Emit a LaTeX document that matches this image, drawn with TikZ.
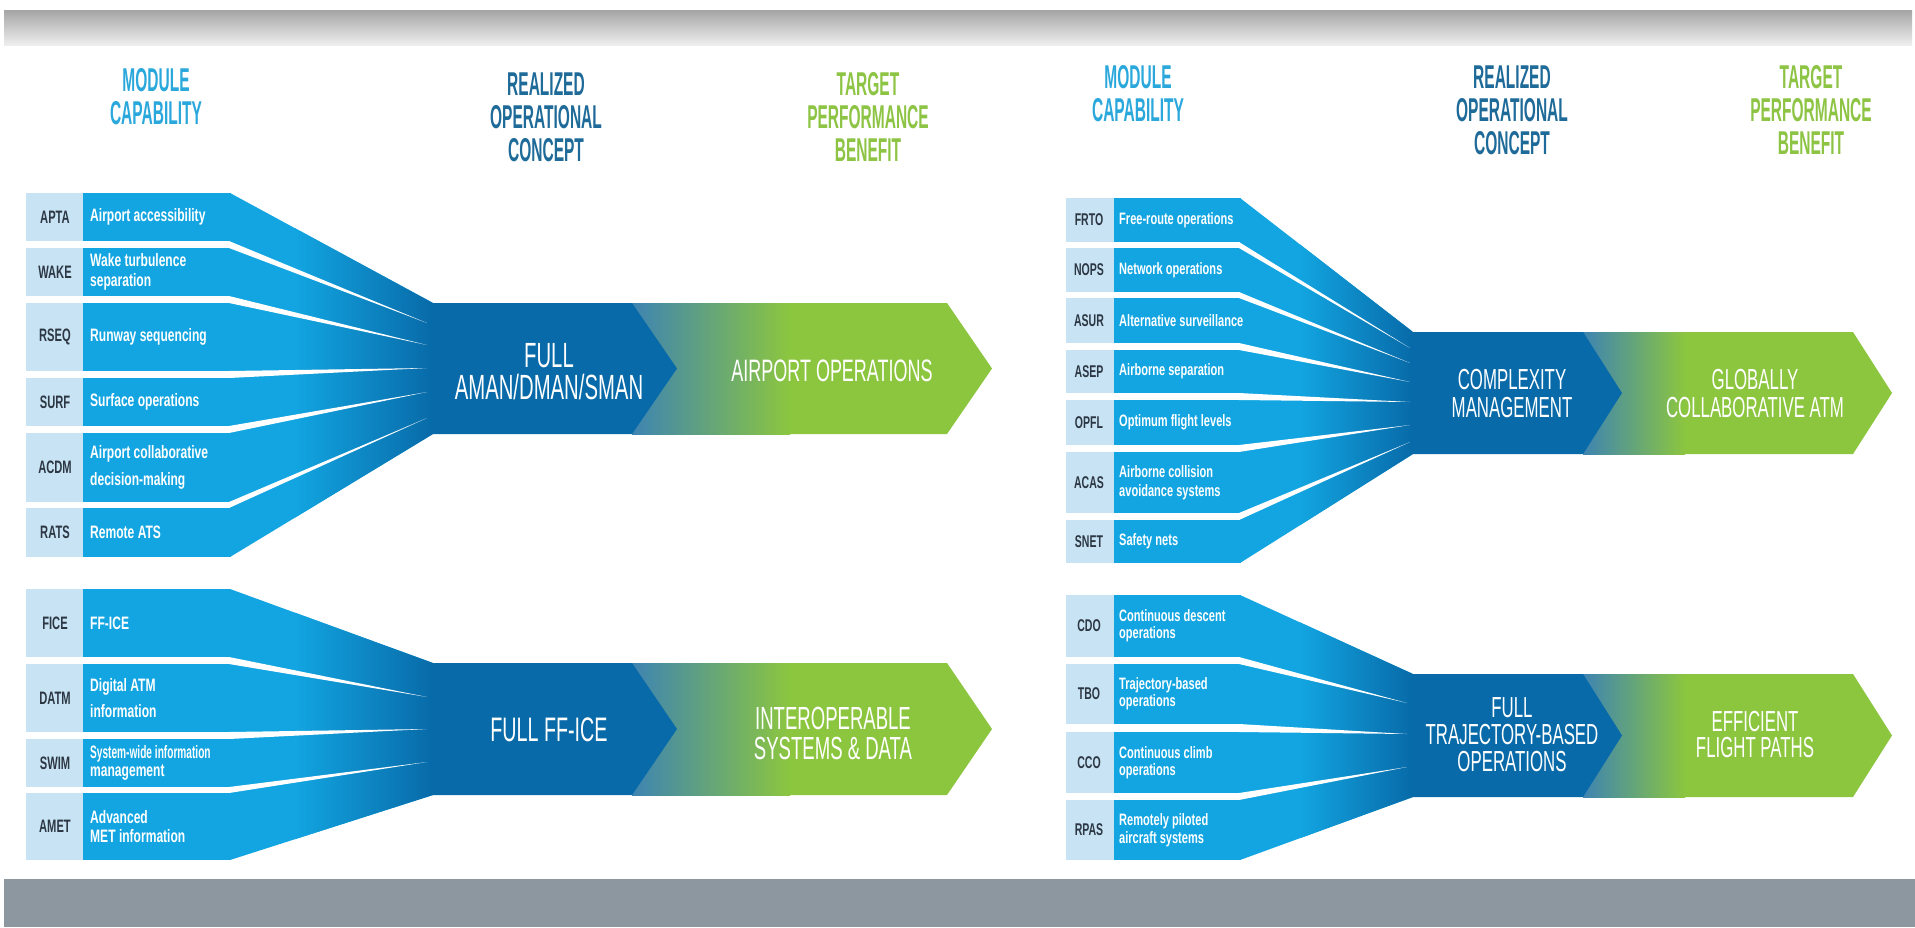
\documentclass[tikz,border=0pt]{standalone}
\usepackage{fontspec}
\setmainfont{Liberation Sans}
\newfontfamily\hdfont[FakeStretch=0.47]{Liberation Sans}
\newfontfamily\arfont[FakeStretch=0.58]{Liberation Sans}
\newfontfamily\cdfont[FakeStretch=0.62]{Liberation Sans}
\newfontfamily\dsfont[FakeStretch=0.67]{Liberation Sans}
\definecolor{rowblue}{RGB}{18,165,225}
\definecolor{codebg}{RGB}{200,228,244}
\definecolor{codetxt}{RGB}{45,55,68}
\definecolor{bodyblue}{RGB}{8,106,168}
\definecolor{midblue}{RGB}{62,132,178}
\definecolor{leaf}{RGB}{140,198,63}
\definecolor{hcyan}{RGB}{42,168,220}
\definecolor{hdark}{RGB}{30,106,152}
\definecolor{hgreen}{RGB}{141,196,68}
\definecolor{bandtop}{RGB}{165,165,165}
\definecolor{bandbot}{RGB}{238,238,238}
\definecolor{footgray}{RGB}{141,151,159}
% fan: #1 rows end, #2 shade start, #3 body x, #4 top, #5 bottom, #6 body top, #7 body bottom
\newcommand\fanshape[7]{%
  \begin{scope}
    \clip (#1,#4) -- (#3,#6) -- (#3,#7) -- (#1,#5) -- cycle;
    \fill[rowblue] (#1,#4) rectangle (#3,#5);
    \shade[left color=rowblue,right color=bodyblue] (#2,#4) rectangle (#3,#5);
  \end{scope}}
% arrow: #1 body x, #2 top, #3 bottom, #4 chevron top, #5 chevron tip, #6 gradient end, #7 green end, #8 tip
\newcommand\bigarrow[8]{%
  \fill[leaf] (#4,#2) -- (#7,#2) -- (#8,{(#2+#3)/2}) -- (#7,#3) -- (#4,#3) -- cycle;
  \shade[left color=midblue,right color=leaf] (#4,#2) rectangle (#6,#3);
  \fill[bodyblue] ({#1-1},#2) -- (#4,#2) -- (#5,{(#2+#3)/2}) -- (#4,#3) -- ({#1-1},#3) -- cycle;}
\def\LUlist{193/241/APTA/{Airport accessibility}/20, 248/296/WAKE/{Wake turbulence\\separation}/20, 303/371/RSEQ/{Runway sequencing}/20, 378/426/SURF/{Surface operations}/20, 433/502/ACDM/{Airport collaborative\\decision-making}/27, 508/557/RATS/{Remote ATS}/20}
\def\LLlist{589/657/FICE/{FF-ICE}/20, 664/732/DATM/{Digital ATM\\information}/26, 739/787/SWIM/{\scalebox{0.84}[1]{System-wide information}\\management}/18, 793/860/AMET/{Advanced\\MET information}/19}
\def\RUlist{198/242/FRTO/{Free-route operations}/19, 248/292/NOPS/{Network operations}/19, 298/343/ASUR/{Alternative surveillance}/19, 350/393/ASEP/{Airborne separation}/19, 400/445/OPFL/{Optimum flight levels}/19, 452/513/ACAS/{Airborne collision\\avoidance systems}/19, 520/563/SNET/{Safety nets}/19}
\def\RLlist{595/657/CDO/{Continuous descent\\operations}/17, 664/724/TBO/{Trajectory-based\\operations}/17, 732/793/CCO/{Continuous climb\\operations}/17, 800/860/RPAS/{Remotely piloted\\aircraft systems}/18}
\begin{document}
\begin{tikzpicture}[x=1pt,y=-1pt,
  hdr/.style={align=center,inner sep=0pt,font=\hdfont\bfseries\fontsize{33}{33}\selectfont},
  arr/.style={align=center,inner sep=0pt,text=white},
  codelbl/.style={inner sep=0pt,text=codetxt},
  desclbl/.style={anchor=west,align=left,inner sep=0pt,text=white}]
\useasboundingbox (0,0) rectangle (1915,927);
\fill[white] (0,0) rectangle (1915,927);
% bands
\shade[top color=bandtop,bottom color=bandbot] (4,10) rectangle (1912,45);
\fill[footgray] (4,879) rectangle (1915,927);
% headers
\node[hdr,text=hcyan] (hm1) at (156,97) {MODULE\\CAPABILITY};
\node[hdr,text=hdark] (hr1) at (546,117) {REALIZED\\OPERATIONAL\\CONCEPT};
\node[hdr,text=hgreen] (ht1) at (868,117) {TARGET\\PERFORMANCE\\BENEFIT};
\node[hdr,text=hcyan] (hm2) at (1138,94) {MODULE\\CAPABILITY};
\node[hdr,text=hdark] (hr2) at (1512,110) {REALIZED\\OPERATIONAL\\CONCEPT};
\node[hdr,text=hgreen] (ht2) at (1811,110) {TARGET\\PERFORMANCE\\BENEFIT};
% ---------- row fills ----------
\foreach \t/\b/\c/\d/\s in \LUlist {
  \fill[codebg] (26,\t) rectangle (83,\b);
  \fill[rowblue] (83,\t) rectangle (231,\b);}
\foreach \t/\b/\c/\d/\s in \LLlist {
  \fill[codebg] (26,\t) rectangle (83,\b);
  \fill[rowblue] (83,\t) rectangle (231,\b);}
\foreach \t/\b/\c/\d/\s in \RUlist {
  \fill[codebg] (1066,\t) rectangle (1114,\b);
  \fill[rowblue] (1114,\t) rectangle (1241,\b);}
\foreach \t/\b/\c/\d/\s in \RLlist {
  \fill[codebg] (1066,\t) rectangle (1114,\b);
  \fill[rowblue] (1114,\t) rectangle (1241,\b);}
% ---------- fans ----------
\fanshape{230}{295}{433}{193}{557}{303}{434}
\fanshape{230}{295}{433}{589}{860}{663}{795}
\fanshape{1240}{1300}{1413}{198}{563}{332}{454}
\fanshape{1240}{1300}{1413}{595}{860}{674}{797}
% ---------- arrows ----------
\bigarrow{433}{303}{434}{632}{677}{790}{947}{992}
\bigarrow{433}{663}{795}{632}{677}{790}{947}{992}
\bigarrow{1413}{332}{454}{1583}{1622}{1685}{1853}{1892}
\bigarrow{1413}{674}{797}{1583}{1622}{1685}{1853}{1892}
% ---------- separators ----------
\foreach \gt/\gb/\ex/\ey in {241/248/427/323, 296/303/427/345, 371/378/427/368, 426/433/427/392, 502/508/427/418,
                            657/664/427/697, 732/739/427/729, 787/793/427/762}
  \fill[white] (229,\gt) -- (\ex,\ey) -- (229,\gb) -- cycle;
\foreach \gt/\gb/\ex/\ey in {242/248/1410/348, 292/298/1410/363, 343/350/1410/382, 393/400/1410/402, 445/452/1410/425, 513/520/1410/442,
                            657/664/1407/703, 724/732/1407/734, 793/800/1407/767}
  \fill[white] (1239,\gt) -- (\ex,\ey) -- (1239,\gb) -- cycle;
% ---------- row labels ----------
\foreach \t/\b/\c/\d/\s in \LUlist {
  \node[codelbl,font=\cdfont\bfseries\fontsize{18}{20}\selectfont] (c\c) at (55,{(\t+\b)/2}) {\c};
  \node[desclbl,font=\dsfont\bfseries\fontsize{18}{\s}\selectfont] (d\c) at (90,{(\t+\b)/2}) {\d};}
\foreach \t/\b/\c/\d/\s in \LLlist {
  \node[codelbl,font=\cdfont\bfseries\fontsize{18}{20}\selectfont] (c\c) at (55,{(\t+\b)/2}) {\c};
  \node[desclbl,font=\dsfont\bfseries\fontsize{18}{\s}\selectfont] (d\c) at (90,{(\t+\b)/2}) {\d};}
\foreach \t/\b/\c/\d/\s in \RUlist {
  \node[codelbl,font=\cdfont\bfseries\fontsize{17}{19}\selectfont] (c\c) at (1089,{(\t+\b)/2}) {\c};
  \node[desclbl,font=\dsfont\bfseries\fontsize{16.5}{\s}\selectfont] (d\c) at (1119,{(\t+\b)/2}) {\d};}
\foreach \t/\b/\c/\d/\s in \RLlist {
  \node[codelbl,font=\cdfont\bfseries\fontsize{17}{19}\selectfont] (c\c) at (1089,{(\t+\b)/2}) {\c};
  \node[desclbl,font=\dsfont\bfseries\fontsize{16.5}{\s}\selectfont] (d\c) at (1119,{(\t+\b)/2}) {\d};}
% ---------- arrow texts ----------
\node[arr,font=\arfont\fontsize{35}{32}\selectfont] (r1) at (549,372) {FULL\\AMAN/DMAN/SMAN};
\node[arr,font=\arfont\fontsize{31}{31}\selectfont] (t1) at (832,371) {AIRPORT OPERATIONS};
\node[arr,font=\arfont\fontsize{34}{31}\selectfont] (r2) at (549,730) {FULL FF-ICE};
\node[arr,font=\arfont\fontsize{32}{30}\selectfont] (t2) at (833,733) {INTEROPERABLE\\SYSTEMS \& DATA};
\node[arr,font=\arfont\fontsize{29}{28}\selectfont] (r3) at (1512,394) {COMPLEXITY\\MANAGEMENT};
\node[arr,font=\arfont\fontsize{29}{28}\selectfont] (t3) at (1755,394) {GLOBALLY\\COLLABORATIVE ATM};
\node[arr,font=\arfont\fontsize{29}{27}\selectfont] (r4) at (1512,735) {FULL\\TRAJECTORY-BASED\\OPERATIONS};
\node[arr,font=\arfont\fontsize{29}{26}\selectfont] (t4) at (1755,735) {EFFICIENT\\FLIGHT PATHS};
\end{tikzpicture}
\end{document}
